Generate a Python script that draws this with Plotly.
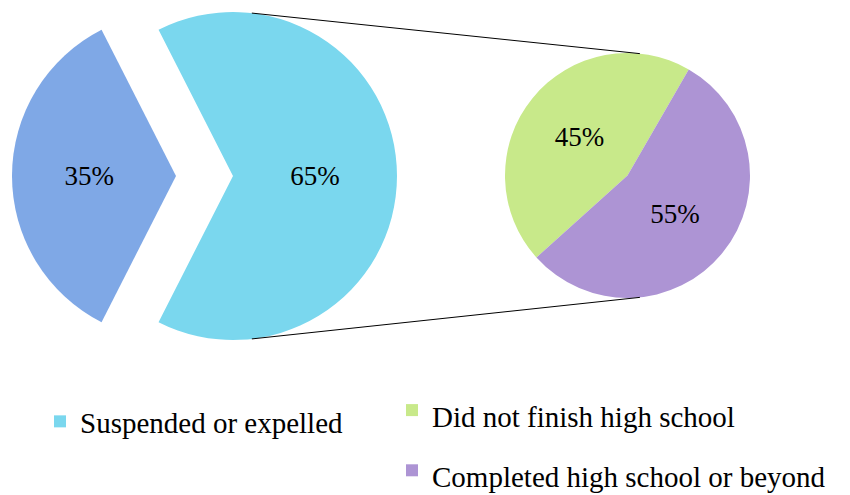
import math
import plotly.graph_objects as go

# ---------------- data ----------------
main_labels = ["Suspended or expelled", "Not suspended or expelled"]
main_values = [65, 35]

sub_labels = ["Did not finish high school", "Completed high school or beyond"]
sub_values = [45, 55]

# ---------------- style / layout ----------------
PAGE_OFF = 8                      # default page body margin in the exported html
W, H = 850 - PAGE_OFF, 495 - PAGE_OFF
C_CYAN = "#7ad7ee"
C_BLUE = "#7fa8e6"
C_GREEN = "#c8e98a"
C_PURPLE = "#ad94d4"
CLEAR = "rgba(0,0,0,0)"
FONT = "Liberation Serif, Times New Roman, serif"

# pie geometry in page pixels (centre x, centre y, radius)
BIG = (233, 176, 164)
BIG_PULL_PX = 57          # how far the smaller main slice is pulled out to the left
SMALL = (627.5, 175.5, 122.5)
SMALL_SPLIT_DEG = 30      # clockwise-from-top angle where the first sub slice ends


def fx(px):
    return (px - PAGE_OFF) / W


def fy(py):
    return 1 - (py - PAGE_OFF) / H


def domain(cx, cy, r):
    return dict(x=[fx(cx - r), fx(cx + r)], y=[fy(cy + r), fy(cy - r)])


def on_circle(cx, cy, r, deg):
    a = math.radians(deg)
    return cx + r * math.cos(a), cy - r * math.sin(a)


common = dict(
    sort=False,
    textposition="inside",
    insidetextorientation="horizontal",
    textfont=dict(family=FONT, size=27, color="black"),
    marker_line_width=0,
)

main_rot = 90 - main_values[0] / sum(main_values) * 360 / 2
sub_rot = SMALL_SPLIT_DEG - sub_values[0] / sum(sub_values) * 360

# Main pie: the large slice (the other slice is transparent)
trace_main = go.Pie(
    labels=[main_labels[0], " "],
    values=main_values,
    marker_colors=[C_CYAN, CLEAR],
    texttemplate=["%{percent}", ""],
    direction="clockwise",
    rotation=main_rot,
    domain=domain(*BIG),
    legend="legend",
    hoverinfo="label+percent",
    **common,
)

# Main pie: the smaller slice, pulled out to the left
trace_pulled = go.Pie(
    labels=main_labels,
    values=main_values,
    marker_colors=[CLEAR, C_BLUE],
    texttemplate=["", "%{percent}"],
    direction="clockwise",
    rotation=main_rot,
    domain=domain(BIG[0] - BIG_PULL_PX, BIG[1], BIG[2]),
    showlegend=False,
    **common,
)

# Secondary pie
trace_sub = go.Pie(
    labels=[f"<span style='font-size:29px'>{s}</span>" for s in sub_labels],
    values=sub_values,
    marker_colors=[C_GREEN, C_PURPLE],
    texttemplate="%{percent}",
    direction="clockwise",
    rotation=sub_rot,
    domain=domain(*SMALL),
    legend="legend2",
    **common,
)

fig = go.Figure([trace_main, trace_pulled, trace_sub])

# connector lines between the two pies
x0, y0 = on_circle(BIG[0], BIG[1], BIG[2], 83.4)
x1, y1 = on_circle(SMALL[0], SMALL[1], SMALL[2], 84.2)
x2, y2 = on_circle(BIG[0], BIG[1], BIG[2], -83.4)
x3, y3 = on_circle(SMALL[0], SMALL[1], SMALL[2], -84.2)
for (a, b, c, d) in [(x0, y0, x1, y1), (x2, y2, x3, y3)]:
    fig.add_shape(type="line", xref="paper", yref="paper",
                  x0=fx(a), y0=fy(b), x1=fx(c), y1=fy(d),
                  line=dict(color="black", width=1))

fig.update_layout(
    width=W, height=H,
    margin=dict(l=0, r=0, t=0, b=0, autoexpand=False),
    paper_bgcolor="white",
    plot_bgcolor="white",
    font=dict(family=FONT, color="black"),
    legend=dict(x=32 / W, y=1 - 388 / H, xanchor="left", yanchor="top",
                font=dict(family=FONT, size=29, color="black"),
                bgcolor=CLEAR),
    legend2=dict(x=384 / W, y=1 - 367 / H, xanchor="left", yanchor="top",
                 font=dict(family=FONT, size=44, color="black"),
                 bgcolor=CLEAR),
)

fig.write_html("out.html", config={"displayModeBar": False})
